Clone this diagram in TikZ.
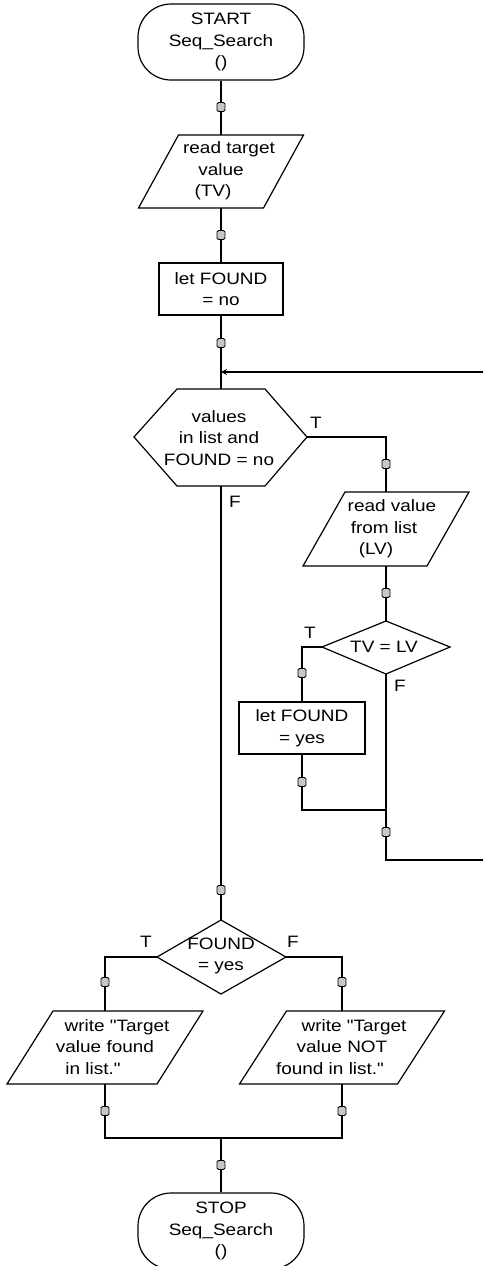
\documentclass[tikz,border=0pt]{standalone}
\usepackage{fontspec}
\setmainfont{Liberation Sans}[FakeStretch=1.15, Ligatures=TeXOff]
\usetikzlibrary{arrows.meta}
\begin{document}
\begin{tikzpicture}[x=1pt,y=-1pt,
  line width=1.2pt,
  every node/.style={font=\fontsize{16.5}{21.5}\selectfont, inner sep=0pt, align=center},
  shp/.style={draw, line width=1.2pt, line join=miter},
  term/.style={draw, line width=1.2pt, rounded corners=33pt, minimum width=166pt, minimum height=76pt},
  box/.style={draw, line width=1.2pt, minimum height=52pt},
  dot/.style={draw, line width=0.9pt, fill=gray!45, minimum width=8pt, minimum height=9pt, rounded corners=1.5pt, inner sep=0pt},
  lbl/.style={font=\fontsize{16.5}{16.5}\selectfont},
  arr/.style={-{Stealth[length=6pt,width=6pt]}}
]
\useasboundingbox (0,0) rectangle (483,1266);

% ---- shapes and texts ----
\node[term] (start) at (221,42) {START\\Seq\_Search\\()};

\draw[shp] (178.5,135) -- (303.5,135) -- (263.5,208) -- (138.5,208) -- cycle;
\node (p1) at (221,171) {\hspace*{16pt}read target\\value\\(TV)\hspace*{16pt}};
\coordinate (p1N) at (221,135);
\coordinate (p1S) at (221,208);

\node[box, minimum width=124pt] (r1) at (221,289) {let FOUND\\= no};

\coordinate (j1) at (221,372);

\draw[shp] (177,389) -- (265,389) -- (307,437) -- (265,486) -- (177,486) -- (134,437) -- cycle;
\node (hex) at (219,438) {values\\in list and\\FOUND = no};
\coordinate (hexN) at (221,389);
\coordinate (hexS) at (221,486);
\coordinate (hexE) at (307,437);

\draw[shp] (345,492) -- (469,492) -- (427,566) -- (303,566) -- cycle;
\node (p2) at (384,529) {\hspace*{16pt}read value\\from list\\(LV)\hspace*{16pt}};
\coordinate (p2N) at (386,492);
\coordinate (p2S) at (386,566);

\draw[shp] (386,621) -- (450,647) -- (386,674) -- (322,647) -- cycle;
\node (d1) at (384,647) {TV = LV};
\coordinate (d1N) at (386,621);
\coordinate (d1S) at (386,674);
\coordinate (d1W) at (322,647);

\node[box, minimum width=126pt] (r2) at (302,728) {let FOUND\\= yes};

\coordinate (m2) at (386,810);
\coordinate (lp) at (386,860);
\coordinate (edgeB) at (483,860);
\coordinate (edgeT) at (483,372);

\draw[shp] (221,920) -- (286,957) -- (221,994) -- (157,957) -- cycle;
\node (d2) at (221,956) {FOUND\\= yes};
\coordinate (d2N) at (221,920);
\coordinate (d2W) at (157,957);
\coordinate (d2E) at (286,957);

\draw[shp] (53,1011) -- (203,1011) -- (157,1084) -- (7,1084) -- cycle;
\node (p3) at (105,1047) {\hspace*{24pt}write "Target\\value found\\in list."\hspace*{24pt}};
\coordinate (p3N) at (105,1011);
\coordinate (p3S) at (105,1084);

\draw[shp] (286.5,1011) -- (444.5,1011) -- (397.5,1084) -- (239.5,1084) -- cycle;
\node (p4) at (342,1047) {\hspace*{24pt}write "Target\\value NOT\\found in list."\hspace*{24pt}};
\coordinate (p4N) at (342,1011);
\coordinate (p4S) at (342,1084);

\coordinate (b0) at (221,1138);

\node[term] (stop) at (221,1231) {STOP\\Seq\_Search\\()};

% ---- connectors ----
\draw (start.south) -- (p1N);
\draw (p1S) -- (r1.north);
\draw (r1.south) -- (hexN);
\draw[arr] (edgeT) -- (j1);
\draw (hexE) -| (p2N);
\draw (p2S) -- (d1N);
\draw (d1W) -| (r2.north);
\draw (r2.south) |- (m2);
\draw (d1S) -- (lp) -- (edgeB);
\draw (hexS) -- (d2N);
\draw (d2W) -| (p3N);
\draw (d2E) -| (p4N);
\draw (p3S) |- (b0);
\draw (p4S) |- (b0);
\draw (b0) -- (stop.north);

% ---- connector dots ----
\foreach \p/\n in {{221,107}/a,{221,235}/b,{221,343}/c,{386,464}/d,{386,593}/e,{302,673}/f,{302,782}/g,{386,832}/h,{221,890}/i,{105,982}/j,{342,982}/k,{105,1111}/l,{342,1111}/m,{221,1165}/n}
  \node[dot] (dot\n) at (\p) {};

% ---- branch labels ----
\node[lbl] (lT1) at (316,423) {T};
\node[lbl] (lF1) at (235,502) {F};
\node[lbl] (lT2) at (310,633) {T};
\node[lbl] (lF2) at (400,686) {F};
\node[lbl] (lT3) at (146,942) {T};
\node[lbl] (lF3) at (293,942) {F};
\end{tikzpicture}
\end{document}
